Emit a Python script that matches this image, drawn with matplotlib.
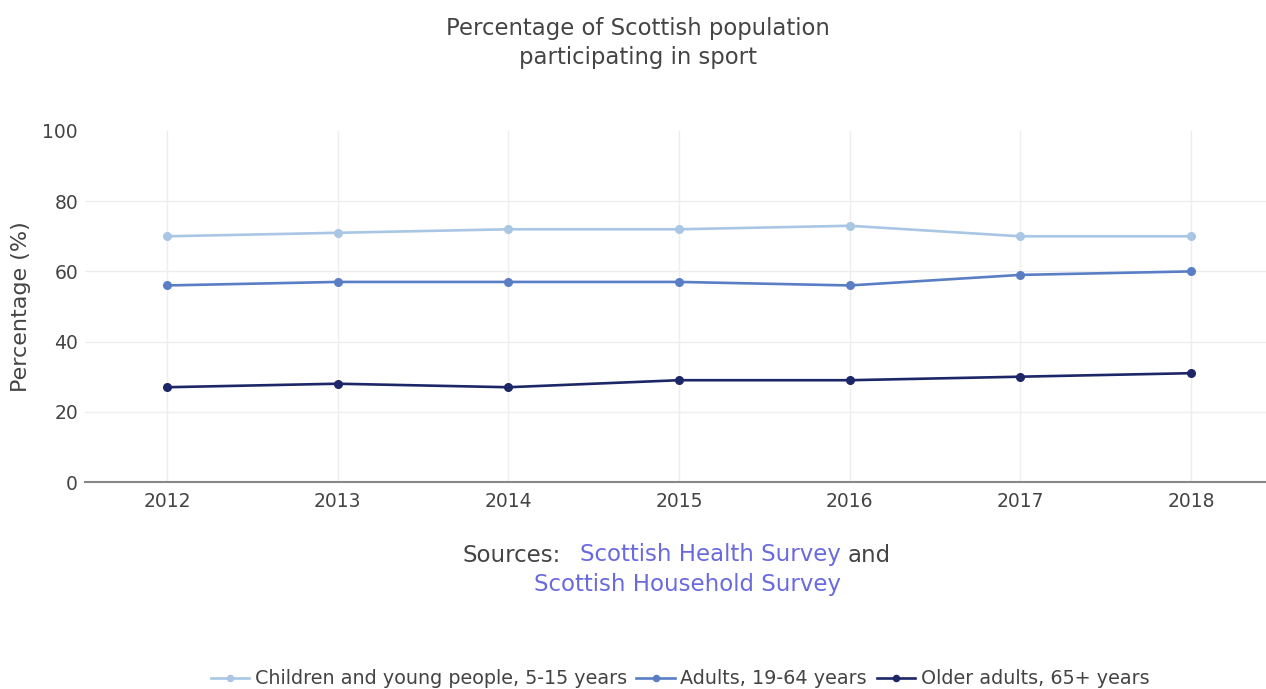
import matplotlib
matplotlib.use("Agg")
import matplotlib.pyplot as plt

plt.rcParams["font.family"] = ["DejaVu Sans"]

years = [2012, 2013, 2014, 2015, 2016, 2017, 2018]
children = [70, 71, 72, 72, 73, 70, 70]
adults = [56, 57, 57, 57, 56, 59, 60]
older = [27, 28, 27, 29, 29, 30, 31]
series_names = ["Children and young people, 5-15 years", "Adults, 19-64 years", "Older adults, 65+ years"]
colors = ["#a9c6e4", "#5a7ec6", "#1d2768"]
yticks = [0, 20, 40, 60, 80, 100]

W, H = 1266, 689
fig = plt.figure(figsize=(W/100, H/100), dpi=100)
ax = fig.add_axes([85/W, 1-482/H, (W-85)/W, (482-131)/H])

for vals, name, c in zip([children, adults, older], series_names, colors):
    ax.plot(years, vals, color=c, lw=1.9, marker="o", ms=5.5, label=name)

ax.set_xlim(2011.52, 2018.44)
ax.set_ylim(0, 100)
ax.set_xticks(years)
ax.set_yticks(yticks)
ax.grid(True, color="#eeeeee", lw=1)
ax.set_axisbelow(True)
ax.get_ygridlines()[-1].set_visible(False)
for s in ["top", "right", "left"]:
    ax.spines[s].set_visible(False)
ax.spines["bottom"].set_color("#888888")
ax.spines["bottom"].set_linewidth(1.5)
ax.tick_params(length=0, labelsize=13.5, colors="#444444", pad=7)
ax.tick_params(axis="y", pad=5)
ax.set_ylabel("Percentage (%)", fontsize=16, color="#444444", labelpad=8)

fig.text(638/W, 1-43/H, "Percentage of Scottish population\nparticipating in sport",
         ha="center", va="center", fontsize=16.4, color="#444444", linespacing=1.3)

link = "#6a6adf"
dark = "#444444"
fs = 16.5
y1 = 1-555/H
y2 = 1-584/H
fig.text(462/W, y1, "Sources:", ha="left", va="center", fontsize=fs, color=dark)
fig.text(580/W, y1, "Scottish Health Survey", ha="left", va="center", fontsize=fs, color=link)
fig.text(848/W, y1, "and", ha="left", va="center", fontsize=fs, color=dark)
fig.text(688/W, y2, "Scottish Household Survey", ha="center", va="center", fontsize=fs, color=link)

handles, labels = ax.get_legend_handles_labels()
fig.legend(handles, labels, loc="center", bbox_to_anchor=(680/W, 10/H), ncol=3,
           frameon=False, fontsize=13.8, handlelength=2.0, handletextpad=0.3,
           columnspacing=0.5, labelcolor="#444444", markerscale=0.8)

fig.savefig("out.png", dpi=100)
